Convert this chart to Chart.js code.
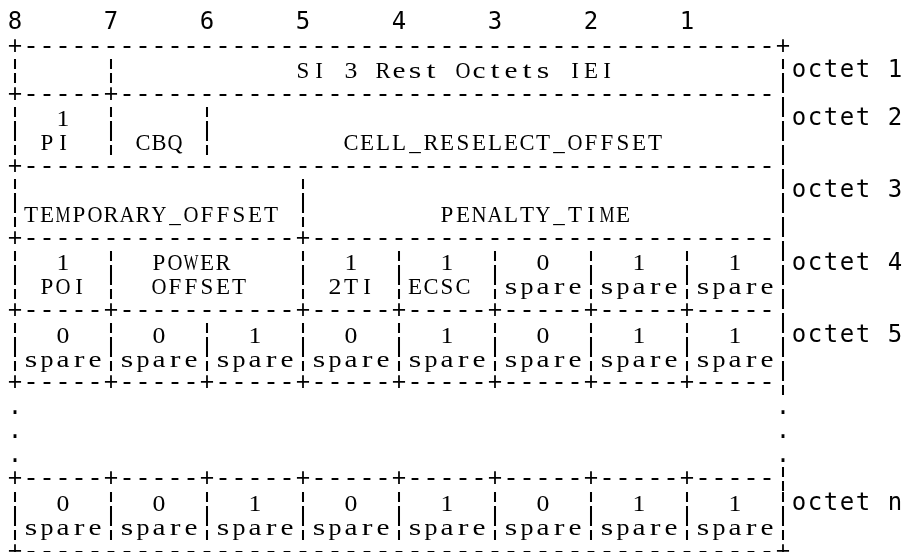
<!DOCTYPE html>
<html>
<head>
<meta charset="utf-8">
<title>SI 3 Rest Octets</title>
<script src="https://cdn.jsdelivr.net/npm/chart.js@4.4.1/dist/chart.umd.min.js"></script>
<style>
    body { margin: 0; background: #fff; }
    #diagram { display: block; }
</style>
</head>
<body>
<canvas id="diagram" width="906" height="552"></canvas>
<script>
// bit numbers over the columns (col index -> label)
const bitNumbers = ['8', '7', '6', '5', '4', '3', '2', '1'];
const bitCols = [0, 6, 12, 18, 24, 30, 36, 42];

// octet labels at the right side of the table
const octetLabels = ['octet 1', 'octet 2', 'octet 3', 'octet 4', 'octet 5', 'octet n'];
const octetRows = [2, 4, 7, 10, 13, 20];

// table body, one string per text row (row 0 is the bit header)
const diagramRows = [
    '',
    '+-----------------------------------------------+',
    '¦     ¦           SI 3 Rest Octets IEI          ¦',
    '+-----+-----------------------------------------¦',
    '¦  1  ¦     ¦                                   ¦',
    '¦ PI  ¦ CBQ ¦        CELL_RESELECT_OFFSET       ¦',
    '+-----------------------------------------------¦',
    '¦                 ¦                             ¦',
    '¦TEMPORARY_OFFSET ¦        PENALTY_TIME         ¦',
    '+-----------------+-----------------------------¦',
    '¦  1  ¦  POWER    ¦  1  ¦  1  ¦  0  ¦  1  ¦  1  ¦',
    '¦ POI ¦  OFFSET   ¦ 2TI ¦ECSC ¦spare¦spare¦spare¦',
    '+-----+-----------+-----+-----+-----+-----+-----¦',
    '¦  0  ¦  0  ¦  1  ¦  0  ¦  1  ¦  0  ¦  1  ¦  1  ¦',
    '¦spare¦spare¦spare¦spare¦spare¦spare¦spare¦spare¦',
    '+-----+-----+-----+-----+-----+-----+-----+-----¦',
    '.                                               .',
    '.                                               .',
    '.                                               .',
    '+-----+-----+-----+-----+-----+-----+-----+-----¦',
    '¦  0  ¦  0  ¦  1  ¦  0  ¦  1  ¦  0  ¦  1  ¦  1  ¦',
    '¦spare¦spare¦spare¦spare¦spare¦spare¦spare¦spare¦',
    '+-----------------------------------------------+'
];

const labelCol = 49;
const ruleChars = '+-¦.';

// draws every character in its grid cell using the chart scales
const asciiPlugin = {
    id: 'asciiText',
    afterDraw(chart) {
        const { ctx, scales: { x, y } } = chart;
        const cellW = x.getPixelForValue(1) - x.getPixelForValue(0);
        ctx.save();
        ctx.fillStyle = '#000';
        ctx.textAlign = 'center';
        ctx.textBaseline = 'middle';

        const putChar = (ch, col, row) => {
            if (ch === ' ') return;
            ctx.fillText(ch, x.getPixelForValue(col), y.getPixelForValue(row), cellW - 1);
        };

        // lowercase serif glyphs are stretched a bit so they fill the cell like a typewriter face
        const putWide = (ch, col, row) => {
            if (ch === ' ') return;
            const w = ctx.measureText(ch).width;
            let maxStretch = 1;
            if (/[a-z]/.test(ch)) maxStretch = 1.4;
            else if (/[0-9]/.test(ch)) maxStretch = 1.12;
            const sx = Math.min(Math.max(13 / w, 1), maxStretch);
            ctx.save();
            ctx.translate(x.getPixelForValue(col), y.getPixelForValue(row) + 1);
            ctx.scale(sx, 1);
            ctx.fillText(ch, 0, 0, (cellW - 1) / sx);
            ctx.restore();
        };

        const ruleFont = '25px "Liberation Mono", monospace';
        const textFont = '23px "Liberation Serif", serif';
        diagramRows.forEach((line, row) => {
            [...line].forEach((ch, col) => {
                if (ruleChars.includes(ch)) {
                    ctx.font = ruleFont;
                    putChar(ch, col, row);
                } else {
                    ctx.font = textFont;
                    putWide(ch, col, row);
                }
            });
        });

        ctx.font = '24px "DejaVu Sans Mono", monospace';
        bitNumbers.forEach((lbl, i) => putChar(lbl, bitCols[i], 0));
        octetLabels.forEach((lbl, i) => {
            [...lbl].forEach((ch, k) => putChar(ch, labelCol + k, octetRows[i]));
        });
        ctx.restore();
    }
};

new Chart(document.getElementById('diagram').getContext('2d'), {
    type: 'scatter',
    data: { datasets: [{ data: [] }] },
    options: {
        responsive: false,
        animation: false,
        events: [],
        layout: { padding: 0 },
        plugins: {
            legend: { display: false },
            tooltip: { enabled: false }
        },
        scales: {
            x: { display: false, min: -0.9375, max: 55.6875 },
            y: { display: false, reverse: true, min: -0.95, max: 22.0 }
        }
    },
    plugins: [asciiPlugin]
});
</script>
</body>
</html>
